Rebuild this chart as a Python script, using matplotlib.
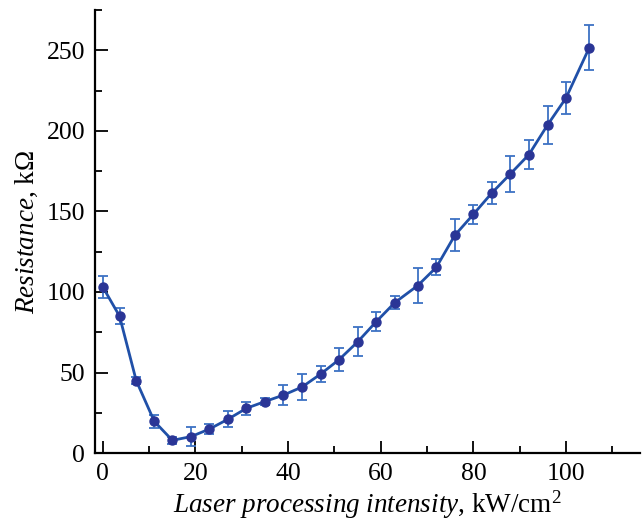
import matplotlib
matplotlib.use("Agg")
import matplotlib.pyplot as plt
from matplotlib.ticker import MultipleLocator

intensity = [0, 3.6, 7.2, 11.1, 15, 19, 23, 27, 31, 35, 39, 43, 47, 51, 55, 59, 63,
             68, 72, 76, 80, 84, 88, 92, 96, 100, 105]
resistance = [103, 85, 45, 19.7, 7.9, 10.2, 14.9, 21, 27.8, 32, 36, 41, 49, 58, 69,
              81.5, 93.3, 104, 115.3, 135.2, 148.2, 161.5, 173.3, 185.3, 203.6, 220.4, 251.5]
errors = [7, 5, 2, 4, 2, 6, 3, 5, 4, 2, 6, 8, 5, 7, 9, 6, 4, 11, 5, 10, 6, 7, 11, 9,
          12, 10, 14]

plt.rcParams['font.family'] = ['Liberation Serif', 'DejaVu Serif']
plt.rcParams['mathtext.fontset'] = 'custom'
plt.rcParams['mathtext.rm'] = 'Liberation Serif'
plt.rcParams['mathtext.it'] = 'Liberation Serif:italic'

fig = plt.figure(figsize=(6.44, 5.25), dpi=100)
ax = fig.add_axes([0.1475, 0.137, 0.8465, 0.844])

ax.errorbar(intensity, resistance, yerr=errors, fmt='none', ecolor='#3d72c4',
            elinewidth=1.3, capsize=3.5, capthick=1.3, zorder=2)
ax.plot(intensity, resistance, '-', color='#2050a8', linewidth=2.0, zorder=3)
ax.plot(intensity, resistance, 'o', color='#2a3596', markersize=6.5, zorder=4)

ax.set_xlim(-1.7, 116)
ax.set_ylim(0, 275)
ax.xaxis.set_major_locator(MultipleLocator(20))
ax.xaxis.set_minor_locator(MultipleLocator(10))
ax.yaxis.set_major_locator(MultipleLocator(50))
ax.yaxis.set_minor_locator(MultipleLocator(25))
ax.tick_params(which='major', direction='in', length=9, width=1.3, labelsize=18.5, pad=7)
ax.tick_params(which='minor', direction='in', length=5, width=1.3)
ax.spines['top'].set_visible(False)
ax.spines['right'].set_visible(False)
ax.spines['left'].set_linewidth(1.6)
ax.spines['bottom'].set_linewidth(1.6)

ax.set_xlabel(r'$\it{Laser\ processing\ intensity}$, kW/cm$^2$', fontsize=19.5, labelpad=3)
ax.set_ylabel(r'$\it{Resistance}$, k$\Omega$', fontsize=19.5, labelpad=5)

fig.savefig('out.png', dpi=100)
